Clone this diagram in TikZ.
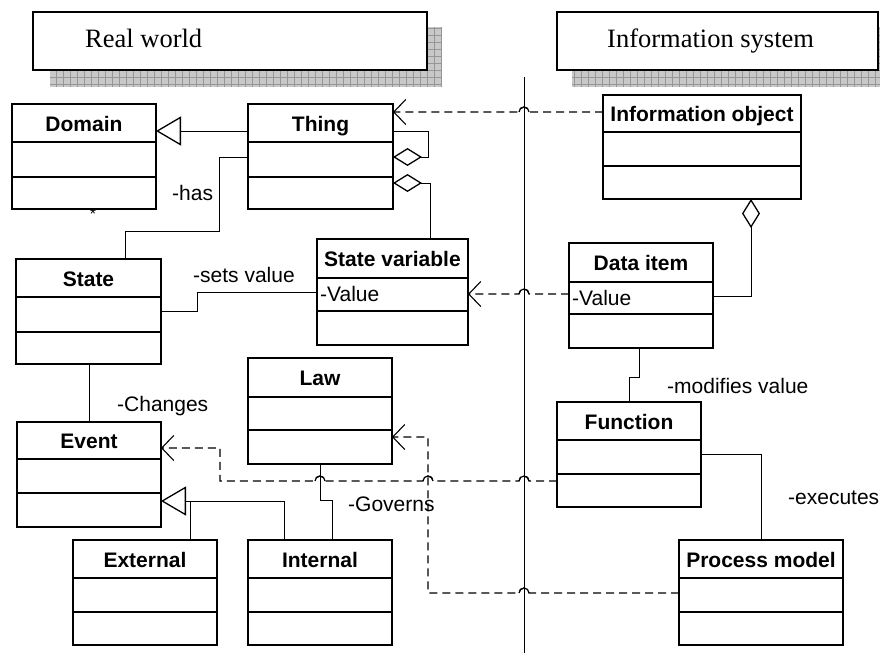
\documentclass[tikz,border=0pt]{standalone}
\usepackage{fontspec}
\setmainfont{Liberation Serif}
\setsansfont{Liberation Sans}
\usetikzlibrary{arrows.meta,calc}
\definecolor{shadowfill}{RGB}{200,200,200}
\definecolor{shadowgrid}{RGB}{150,150,150}
\tikzset{
  box/.style={draw, line width=1.6pt, fill=white, inner sep=0pt, outer sep=0pt},
  boxline/.style={line width=1.6pt},
  hdrbox/.style={draw, line width=2pt, fill=white, inner sep=0pt, outer sep=0pt},
  hdrtext/.style={font=\fontsize{26.5}{30}\selectfont, anchor=base west, inner sep=0pt},
  title/.style={font=\sffamily\bfseries\fontsize{21}{24}\selectfont, anchor=base, inner sep=0pt},
  lbl/.style={font=\sffamily\fontsize{21}{24}\selectfont, anchor=base west, inner sep=0pt},
  conn/.style={line width=1pt},
  dep/.style={line width=1.2pt, dash pattern=on 8pt off 5pt},
  jumparc/.style={line width=1.2pt},
  gentip/.style={-{Triangle[open, length=25pt, width=29pt, line width=1.3pt]}},
  aggtip/.style={-{Diamond[open, length=29pt, width=18pt, line width=1.3pt]}},
  deptip/.style={-{Straight Barb[length=12pt, width=25pt, line width=1.1pt]}}
}
% #1 name, #2 x1, #3 y1, #4 x2, #5 y2, #6 divider1 y, #7 divider2 y, #8 title
\newcommand\umlclass[8]{%
  \node[box, anchor=north west, minimum width={(#4-#2)*1pt}, minimum height={(#5-#3)*1pt}] (#1) at (#2,#3) {};
  \draw[boxline] (#1.west|-0,#6) -- (#1.east|-0,#6);
  \draw[boxline] (#1.west|-0,#7) -- (#1.east|-0,#7);
  \node[title] (#1-title) at ({(#2+#4)/2},{(#3+#6)/2+8}) {#8};
}
% solid line jump arc centred at (#1,#2)
\newcommand\jumpover[2]{%
  \draw[jumparc] ({#1+5},#2) arc[start angle=0, end angle=180, radius=5pt];
}
\begin{document}
\begin{tikzpicture}[x=1pt,y=-1pt]
\useasboundingbox (0,0) rectangle (880,653);

% header shadows
\begin{scope}
  \clip (50,27) rectangle (442,87);
  \fill[shadowfill] (50,27) rectangle (442,87);
  \draw[shadowgrid, line width=0.6pt, step=7pt] (50,27) grid (442,87);
\end{scope}
\begin{scope}
  \clip (572,27) rectangle (880,87);
  \fill[shadowfill] (572,27) rectangle (895,87);
  \draw[shadowgrid, line width=0.6pt, step=7pt] (572,27) grid (895,87);
\end{scope}

% header boxes
\node[hdrbox, anchor=north west, minimum width=394pt, minimum height=58pt] (realworld) at (33,12) {};
\node[hdrtext] (realworld-text) at (85,47) {Real world};
\node[hdrbox, anchor=north west, minimum width=321pt, minimum height=58pt] (infosys) at (557,12) {};
\node[hdrtext] (infosys-text) at (607,47) {Information system};

% separator
\coordinate (septop) at (524,77);
\coordinate (sepbot) at (524,653);
\draw[line width=1pt] (septop) -- (sepbot);

% classes
\umlclass{domain}{12}{104}{156}{209}{142}{177}{Domain}
\umlclass{thing}{248}{104}{393}{209}{142}{177}{Thing}
\umlclass{infoobj}{603}{95}{801}{199}{132}{166}{Information object}
\umlclass{state}{16}{259}{161}{364}{297}{332}{State}
\umlclass{statevar}{317}{239}{468}{345}{278}{311}{State variable}
\umlclass{dataitem}{569}{243}{713}{348}{282}{314}{Data item}
\umlclass{law}{248}{358}{392}{464}{397}{430}{Law}
\umlclass{event}{17}{422}{161}{527}{459}{493}{Event}
\umlclass{function}{557}{402}{701}{507}{440}{474}{Function}
\umlclass{external}{73}{540}{217}{645}{578}{612}{External}
\umlclass{internal}{248}{540}{392}{645}{578}{612}{Internal}
\umlclass{process}{679}{540}{843}{645}{578}{612}{Process model}

% attributes
\node[lbl] (svval) at (320,301) {-Value};
\node[lbl] (dival) at (572,305) {-Value};
\node[font=\sffamily\fontsize{16}{16}\selectfont, inner sep=0pt] (mult) at (93,214) {*};

% solid connectors
\draw[conn, gentip] (thing.west|-0,131) -- (domain.east|-0,131);
\draw[conn, aggtip] (thing.east|-0,131) -- (428,131) -- (428,157) -- (thing.east|-0,157);
\draw[conn, aggtip] (statevar.north-|430,0) |- (thing.east|-0,183);
\draw[conn] (state.north-|125,0) |- (219,231) |- (thing.west|-0,157);
\draw[conn] (state.east|-0,311) -- (197,311) |- (statevar.west|-0,292);
\draw[conn] (state.south-|89,0) -- (event.north-|89,0);
\draw[conn, gentip] (internal.north-|284,0) |- (event.east|-0,501);
\draw[conn] (external.north-|190,0) -- (190,502);
\draw[conn] (law.south-|320,0) |- (332,500) -- (internal.north-|332,0);
\draw[conn] (dataitem.south-|639,0) |- (629,377) -- (function.north-|629,0);
\draw[conn] (function.east|-0,454) -| (process.north-|761,0);
\draw[conn, aggtip] (dataitem.east|-0,296) -| (infoobj.south-|751,0);

% dependencies (dashed) with line jumps
\draw[dep, deptip] (infoobj.west|-0,112) -- (529,112)
  arc[start angle=0, end angle=180, radius=5pt] -- (thing.east|-0,112);
\draw[dep, deptip] (dataitem.west|-0,294) -- (529,294)
  arc[start angle=0, end angle=180, radius=5pt] -- (statevar.east|-0,294);
\draw[dep, deptip] (function.west|-0,481) -- (529,481)
  arc[start angle=0, end angle=180, radius=5pt] -- (433,481)
  arc[start angle=0, end angle=180, radius=5pt] -- (325,481)
  arc[start angle=0, end angle=180, radius=5pt] -- (220,481) -- (220,448) -- (event.east|-0,448);
\draw[dep, deptip] (process.west|-0,593) -- (529,593)
  arc[start angle=0, end angle=180, radius=5pt] -- (428,593) -- (428,437) -- (law.east|-0,437);
\jumpover{524}{112}
\jumpover{524}{294}
\jumpover{524}{481}
\jumpover{428}{481}
\jumpover{320}{481}
\jumpover{524}{593}

% association labels
\node[lbl] (has) at (172,200) {-has};
\node[lbl] (setsvalue) at (193,282) {-sets value};
\node[lbl] (changes) at (117,411) {-Changes};
\node[lbl] (governs) at (348,511) {-Governs};
\node[lbl] (modifies) at (667,393) {-modifies value};
\node[lbl] (executes) at (788,504) {-executes};
\end{tikzpicture}
\end{document}
